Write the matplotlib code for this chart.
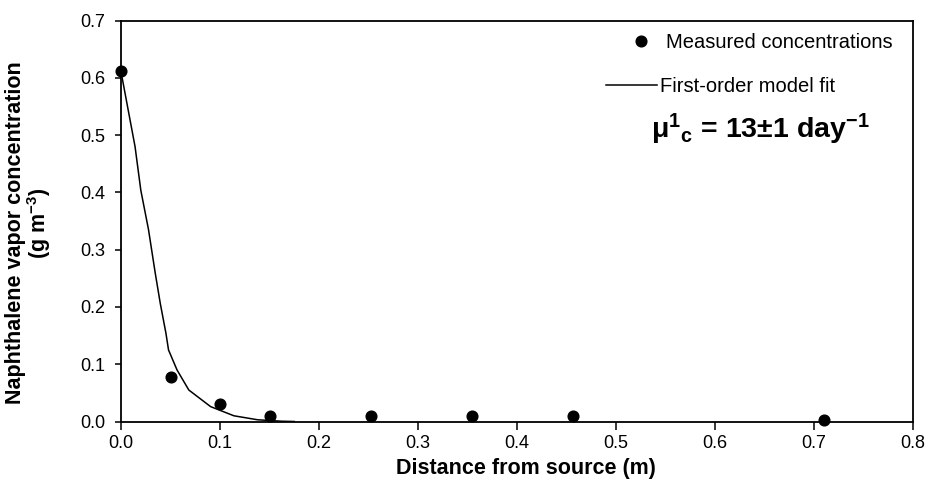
import matplotlib
matplotlib.use('Agg')
import matplotlib.pyplot as plt

plt.rcParams['font.family'] = ['Liberation Sans', 'DejaVu Sans']
plt.rcParams['mathtext.fontset'] = 'custom'
plt.rcParams['mathtext.rm'] = 'Liberation Sans'
plt.rcParams['mathtext.bf'] = 'Liberation Sans:bold'
plt.rcParams['mathtext.it'] = 'Liberation Sans:italic'

# measured points
dist = [0.0, 0.05, 0.10, 0.151, 0.253, 0.355, 0.457, 0.71]
conc = [0.613, 0.078, 0.031, 0.009, 0.009, 0.009, 0.009, 0.002]

# model curve
fit_x = [0.0, 0.0142, 0.020, 0.0278, 0.0346, 0.0397, 0.0454, 0.048, 0.0566,
         0.0685, 0.0905, 0.114, 0.138, 0.162, 0.175]
fit_y = [0.611, 0.480, 0.404, 0.335, 0.259, 0.206, 0.154, 0.125, 0.090,
         0.055, 0.026, 0.010, 0.003, 0.0005, 0.0]

xticks = [0.0, 0.1, 0.2, 0.3, 0.4, 0.5, 0.6, 0.7, 0.8]
yticks = [0.0, 0.1, 0.2, 0.3, 0.4, 0.5, 0.6, 0.7]

W, H = 928, 497
fig = plt.figure(figsize=(W / 100, H / 100), dpi=100)
ax = fig.add_axes([121 / W, 1 - 421.5 / H, (913 - 121) / W, (421.5 - 20.7) / H])

pts, = ax.plot(dist, conc, 'o', color='black', markersize=7.7,
               label='Measured concentrations', clip_on=False, zorder=3)
fit, = ax.plot(fit_x, fit_y, '-', color='black', linewidth=1.1,
               label='First-order model fit')

ax.set_xlim(0, 0.8)
ax.set_ylim(0, 0.7)
ax.set_xticks(xticks)
ax.set_yticks(yticks)
ax.set_xticklabels(['%.1f' % v for v in xticks])
ax.set_yticklabels(['%.1f' % v for v in yticks])
ax.tick_params(axis='x', direction='out', length=6, width=1.1, labelsize=13, pad=4)
ax.tick_params(axis='y', direction='out', length=4.5, width=1.1, labelsize=13, pad=7)
for s in ax.spines.values():
    s.set_linewidth(1.3)

# axis titles placed like the original
fig.text(526 / W, 1 - 474 / H, 'Distance from source (m)', fontsize=15.5,
         fontweight='bold', ha='center', va='baseline')
fig.text(16 / W, 1 - 233 / H, 'Naphthalene vapor concentration', fontsize=15.5,
         fontweight='bold', rotation=90, ha='center', va='center')
fig.text(39 / W, 1 - 223 / H, '(g m$^{\\mathbf{-3}}$)', fontsize=15.5,
         fontweight='bold', rotation=90, ha='center', va='center')

# legend: two entries, laid out like the original (marker not centred on the line)
fig.legend(handles=[pts], loc='center left', bbox_to_anchor=(631 / W, 1 - 43 / H),
           frameon=False, fontsize=14.5, handlelength=1.0, handletextpad=0.75,
           borderpad=0, borderaxespad=0)
fig.legend(handles=[fit], loc='center left', bbox_to_anchor=(606 / W, 1 - 86.5 / H),
           frameon=False, fontsize=14.5, handlelength=2.55, handletextpad=0.15,
           borderpad=0, borderaxespad=0)

fig.text(651 / W, 1 - 138 / H,
         '$\\mathbf{\\mu^{1}}$$_{\\mathbf{c}}$ = 13\u00b11 day$^{\\mathbf{-1}}$',
         fontsize=20.5, fontweight='bold', ha='left', va='baseline')

fig.savefig('out.png', dpi=100)
